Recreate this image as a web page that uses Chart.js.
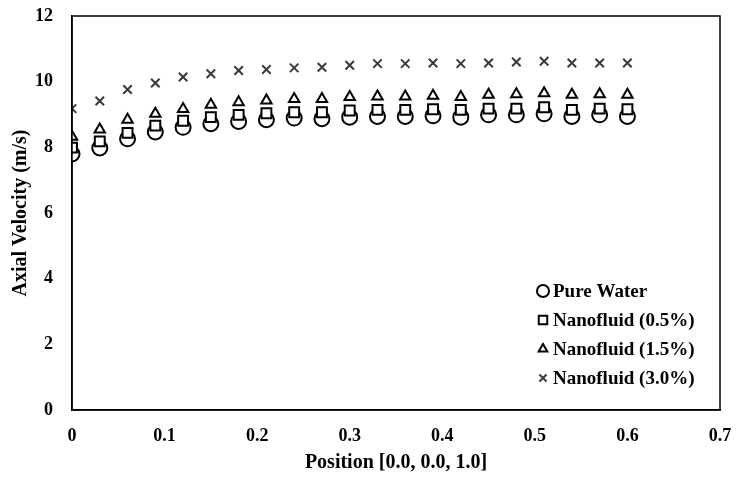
<!DOCTYPE html>
<html lang="en">
<head>
  <meta charset="UTF-8">
  <title>Axial Velocity</title>
  <style>
    body { margin: 0; padding: 0; background: #fff; }
    .wrap { width: 738px; height: 487px; }
  </style>
</head>
<body>
  <div class="wrap"><canvas id="velocityChart" width="738" height="487"></canvas></div>

  <script src="https://cdn.jsdelivr.net/npm/chart.js"></script>
  <script>
    // Values
    const positions = [0, 0.03, 0.06, 0.09, 0.12, 0.15, 0.18, 0.21, 0.24, 0.27, 0.30,
                       0.33, 0.36, 0.39, 0.42, 0.45, 0.48, 0.51, 0.54, 0.57, 0.60];
    const pureWater = [7.80, 7.98, 8.26, 8.47, 8.61, 8.72, 8.79, 8.84, 8.89, 8.87, 8.92,
                       8.94, 8.94, 8.96, 8.92, 8.99, 8.99, 9.02, 8.94, 8.99, 8.94];
    const nano05 = [7.99, 8.18, 8.44, 8.66, 8.81, 8.92, 8.99, 9.04, 9.07, 9.07, 9.12,
                    9.14, 9.14, 9.16, 9.14, 9.18, 9.18, 9.22, 9.14, 9.18, 9.16];
    const nano15 = [8.32, 8.54, 8.84, 9.02, 9.17, 9.30, 9.37, 9.43, 9.47, 9.47, 9.53,
                    9.55, 9.55, 9.57, 9.53, 9.60, 9.62, 9.65, 9.60, 9.62, 9.60];
    const nano30 = [9.18, 9.41, 9.76, 9.96, 10.14, 10.24, 10.34, 10.37, 10.42, 10.44, 10.50,
                    10.55, 10.55, 10.57, 10.55, 10.57, 10.60, 10.62, 10.57, 10.57, 10.57];
    const seriesNames = ['Pure Water', 'Nanofluid (0.5%)', 'Nanofluid (1.5%)', 'Nanofluid (3.0%)'];

    const fontFamily = '"Liberation Serif", "Times New Roman", serif';

    function toPoints(values) {
      return values.map((v, i) => ({ x: positions[i], y: v }));
    }

    // box round the plot area
    const frame = {
      id: 'frame',
      afterDraw(chart) {
        const a = chart.chartArea;
        const ctx = chart.ctx;
        ctx.save();
        ctx.strokeStyle = '#000';
        ctx.lineWidth = 1.5;
        ctx.strokeRect(a.left, a.top, a.right - a.left, a.bottom - a.top);
        ctx.restore();
      }
    };

    // legend drawn inside the lower right of the plot
    const insideLegend = {
      id: 'insideLegend',
      afterDraw(chart) {
        const ctx = chart.ctx;
        const a = chart.chartArea;
        const x0 = a.right - 177;
        const y0 = a.bottom - 119;
        ctx.save();
        ctx.font = 'bold 19px ' + fontFamily;
        ctx.textBaseline = 'middle';
        chart.data.datasets.forEach((ds, i) => {
          const y = y0 + i * 29;
          ctx.fillStyle = ds.backgroundColor;
          ctx.strokeStyle = ds.borderColor;
          ctx.lineWidth = ds.borderWidth;
          Chart.helpers.drawPoint(ctx, {
            pointStyle: ds.pointStyle,
            radius: ds.legendRadius,
            borderWidth: ds.borderWidth
          }, x0, y);
          ctx.fillStyle = '#000';
          ctx.fillText(ds.label, x0 + 10, y + 1);
        });
        ctx.restore();
      }
    };

    new Chart(document.getElementById('velocityChart'), {
      type: 'scatter',
      data: {
        datasets: [
          {
            label: seriesNames[0], data: toPoints(pureWater), order: 4,
            pointStyle: 'circle', pointRadius: 7.5, legendRadius: 6,
            borderColor: '#000', backgroundColor: '#fff', borderWidth: 2
          },
          {
            label: seriesNames[1], data: toPoints(nano05), order: 3,
            pointStyle: 'rect', pointRadius: 7, legendRadius: 6,
            borderColor: '#000', backgroundColor: '#fff', borderWidth: 2
          },
          {
            label: seriesNames[2], data: toPoints(nano15), order: 2,
            pointStyle: 'triangle', pointRadius: 6, legendRadius: 5,
            borderColor: '#000', backgroundColor: '#fff', borderWidth: 2
          },
          {
            label: seriesNames[3], data: toPoints(nano30), order: 1,
            pointStyle: 'crossRot', pointRadius: 6, legendRadius: 5,
            borderColor: '#3a3a3a', backgroundColor: '#3a3a3a', borderWidth: 2
          }
        ]
      },
      options: {
        responsive: false,
        animation: false,
        layout: { padding: { top: 16, right: 18, left: 0, bottom: 0 } },
        plugins: {
          legend: { display: false },
          tooltip: { enabled: false }
        },
        scales: {
          x: {
            type: 'linear',
            min: 0,
            max: 0.7,
            afterFit(scale) {
              scale.height = 77;
              scale.paddingLeft = 0;
              scale.paddingRight = 0;
            },
            grid: { display: false },
            border: { display: true, color: '#000', width: 1.5 },
            ticks: {
              stepSize: 0.1,
              padding: 8,
              color: '#000',
              font: { family: fontFamily, size: 18, weight: 'bold' },
              callback: v => String(Math.round(v * 10) / 10)
            },
            title: {
              display: true,
              text: 'Position [0.0, 0.0, 1.0]',
              color: '#000',
              padding: { top: 4, bottom: 12 },
              font: { family: fontFamily, size: 20, weight: 'bold' }
            }
          },
          y: {
            min: 0,
            max: 12,
            afterFit(scale) {
              scale.width = 72;
              scale.paddingTop = 0;
              scale.paddingBottom = 0;
            },
            grid: { display: false },
            border: { display: true, color: '#000', width: 1.5 },
            ticks: {
              stepSize: 2,
              padding: 11,
              color: '#000',
              font: { family: fontFamily, size: 18, weight: 'bold' }
            },
            title: {
              display: true,
              text: 'Axial Velocity (m/s)',
              color: '#000',
              padding: { top: 9, bottom: 0 },
              font: { family: fontFamily, size: 20, weight: 'bold' }
            }
          }
        }
      },
      plugins: [frame, insideLegend]
    });
  </script>
</body>
</html>
